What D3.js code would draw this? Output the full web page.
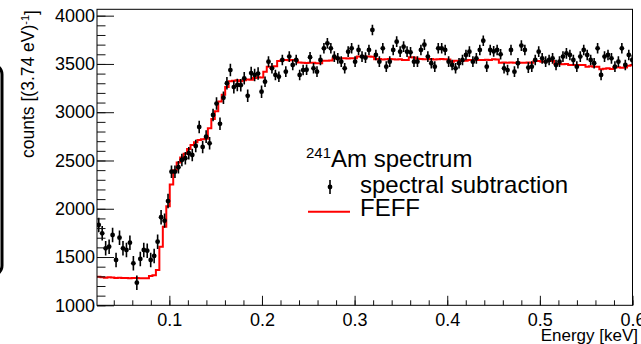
<!DOCTYPE html>
<html><head><meta charset="utf-8">
<script src="https://cdn.jsdelivr.net/npm/d3@7/dist/d3.min.js"></script>
<style>
body{margin:0;background:#fff}
svg{display:block}
text{font-family:"Liberation Sans",Arial,Helvetica,sans-serif}
</style>
</head><body>
<svg id="c" width="641" height="344"></svg>
<script>
// ---- data ----
const binStart = 0.0219;   // keV, low edge of first bin
const binWidth = 0.00374;  // keV (3.74 eV)
const counts = [
1832,1746,1590,1607,1728,1469,1700,1590,1573,1649,1435,1234,1480,1573,1566,1469,1511,1659,1912,1877,
2080,2384,2384,2430,2505,2523,2575,2557,2650,2847,2640,2747,2678,2971,3090,2880,3150,3300,3437,3260,
3282,3280,3351,3170,3405,3386,3400,3213,3316,3524,3455,3386,3368,3541,3420,3576,3489,3541,3386,3437,
3440,3570,3455,3420,3541,3662,3714,3662,3576,3558,3524,3455,3627,3662,3524,3645,3576,3565,3645,3852,
3593,3524,3662,3472,3524,3645,3731,3627,3679,3627,3620,3524,3524,3645,3700,3576,3507,3472,3662,3662,
3645,3524,3489,3455,3507,3541,3593,3627,3524,3558,3645,3740,3472,3645,3630,3645,3600,3455,3437,3645,
3420,3507,3690,3645,3462,3472,3541,3627,3558,3524,3541,3558,3489,3524,3576,3610,3593,3541,3472,3576,
3645,3593,3541,3507,3662,3386,3576,3593,3558,3472,3524,3662,3489,3593,3541
];
const feff = [
1296,1290,1285,1290,1288,1282,1285,1283,1282,1280,1283,1282,1280,1281,1279,1303,1310,1366,1607,1814,
2025,2250,2400,2480,2530,2570,2620,2660,2690,2712,2720,2725,2834,2930,3010,3110,3180,3260,3320,3325,
3330,3322,3330,3340,3335,3355,3362,3360,3420,3470,3472,3475,3530,3541,3541,3538,3541,3536,3515,3513,
3510,3513,3512,3507,3507,3534,3532,3536,3558,3555,3560,3558,3556,3560,3558,3576,3574,3578,3576,3575,
3548,3550,3546,3548,3550,3548,3545,3548,3540,3541,3569,3566,3555,3550,3548,3548,3550,3546,3548,3550,
3548,3545,3524,3534,3532,3535,3534,3541,3540,3542,3541,3540,3543,3541,3548,3546,3513,3515,3512,3514,
3513,3515,3512,3513,3514,3512,3531,3530,3524,3526,3531,3530,3500,3502,3498,3500,3489,3490,3488,3489,
3490,3472,3475,3472,3470,3445,3450,3455,3447,3462,3465,3460,3462,3482,3490
];
const errBands = [{upTo:0.1, err:75},{upTo:0.2, err:65},{upTo:1.0, err:55}];
const xMajor = [0.1,0.2,0.3,0.4,0.5,0.6];
const xMinor = d3.range(0.04, 0.601, 0.02);
const yMajor = [1000,1500,2000,2500,3000,3500,4000];
const yMinor = d3.range(1000, 4001, 100);
const legendLabels = ["Am spectrum","spectral subtraction","FEFF"];

// ---- layout ----
const L = 97, R = 632.5, T = 9.3, B = 305.3;
const svg = d3.select("#c");
const x = d3.scaleLinear().domain([binStart, 0.6]).range([L, R]);
const y = d3.scaleLinear().domain([1000, 4066]).range([B, T]);

svg.append("defs").append("clipPath").attr("id","clip")
  .append("rect").attr("x",L).attr("y",T).attr("width",R-L).attr("height",B-T);

// left decoration (cut-off rounded box)
svg.append("rect").attr("x",-30).attr("y",64.5).attr("width",32).attr("height",211)
  .attr("rx",10).attr("fill","none").attr("stroke","#000").attr("stroke-width",3);

const g = svg.append("g").attr("clip-path","url(#clip)");

// FEFF step histogram
const steps = [];
feff.forEach((v,i)=>{
  steps.push([binStart+i*binWidth, v]);
  steps.push([binStart+(i+1)*binWidth, v]);
});
g.append("path").datum(steps)
  .attr("d", d3.line().x(d=>x(d[0])).y(d=>y(d[1])))
  .attr("fill","none").attr("stroke","#ff0000").attr("stroke-width",2);

// data points
const pts = counts.map((v,i)=>{
  const e = binStart+(i+0.5)*binWidth;
  const err = errBands.find(b=>e<b.upTo).err;
  return {e, v, err};
});
g.selectAll("line.eb").data(pts).join("line").attr("class","eb")
  .attr("x1",d=>x(d.e)).attr("x2",d=>x(d.e))
  .attr("y1",d=>y(d.v-d.err)).attr("y2",d=>y(d.v+d.err))
  .attr("stroke","#000").attr("stroke-width",1.6);
g.selectAll("circle.pt").data(pts).join("circle").attr("class","pt")
  .attr("cx",d=>x(d.e)).attr("cy",d=>y(d.v)).attr("r",2.4).attr("fill","#000");

// axes
const fs = "18px";
const ax = svg.append("g").attr("transform",`translate(0,${B})`)
  .call(d3.axisBottom(x).tickValues(xMajor).tickSize(-9.5).tickPadding(8).tickFormat(d3.format(".1f")));
const axm = svg.append("g").attr("transform",`translate(0,${B})`)
  .call(d3.axisBottom(x).tickValues(xMinor).tickSize(-5).tickFormat(""));
const ay = svg.append("g").attr("transform",`translate(${L},0)`)
  .call(d3.axisLeft(y).tickValues(yMajor).tickSize(-17).tickPadding(2).tickFormat(d3.format("d")));
const aym = svg.append("g").attr("transform",`translate(${L},0)`)
  .call(d3.axisLeft(y).tickValues(yMinor).tickSize(-8.5).tickFormat(""));
[ax,axm,ay,aym].forEach(a=>{
  a.select(".domain").remove();
  a.selectAll("line").attr("stroke","#111");
  a.selectAll("text").attr("font-size",fs).attr("fill","#000")
   .attr("font-family",'"Liberation Sans",Arial,sans-serif');
});

// frame
svg.append("rect").attr("x",L).attr("y",T).attr("width",R-L).attr("height",B-T)
  .attr("fill","none").attr("stroke","#000").attr("stroke-width",1);

// axis titles
svg.append("text").attr("x",638).attr("y",341).attr("text-anchor","end")
  .attr("font-size","17px").text("Energy [keV]");
const yt = svg.append("text").attr("transform","translate(34,10) rotate(-90)")
  .attr("text-anchor","end").attr("font-size","17.5px");
yt.append("tspan").text("counts [(3.74 eV)");
yt.append("tspan").attr("dy","-0.45em").attr("font-size","11px").text("-1");
yt.append("tspan").attr("dy","0.45em").text("]");

// legend
const lg = svg.append("g");
const t1 = lg.append("text").attr("x",306).attr("y",166.5).attr("font-size","24px");
t1.append("tspan").attr("font-size","15px").attr("dy","-9").text("241");
t1.append("tspan").attr("dy","9").text(legendLabels[0]);
lg.append("line").attr("x1",330).attr("x2",330).attr("y1",180).attr("y2",194)
  .attr("stroke","#000").attr("stroke-width",1.6);
lg.append("circle").attr("cx",330).attr("cy",187).attr("r",2.4).attr("fill","#000");
lg.append("text").attr("x",360).attr("y",193).attr("font-size","24px").text(legendLabels[1]);
lg.append("line").attr("x1",308).attr("x2",350).attr("y1",211.7).attr("y2",211.7)
  .attr("stroke","#ff0000").attr("stroke-width",2);
lg.append("text").attr("x",360).attr("y",216).attr("font-size","24px").text(legendLabels[2]);
</script>
</body></html>
